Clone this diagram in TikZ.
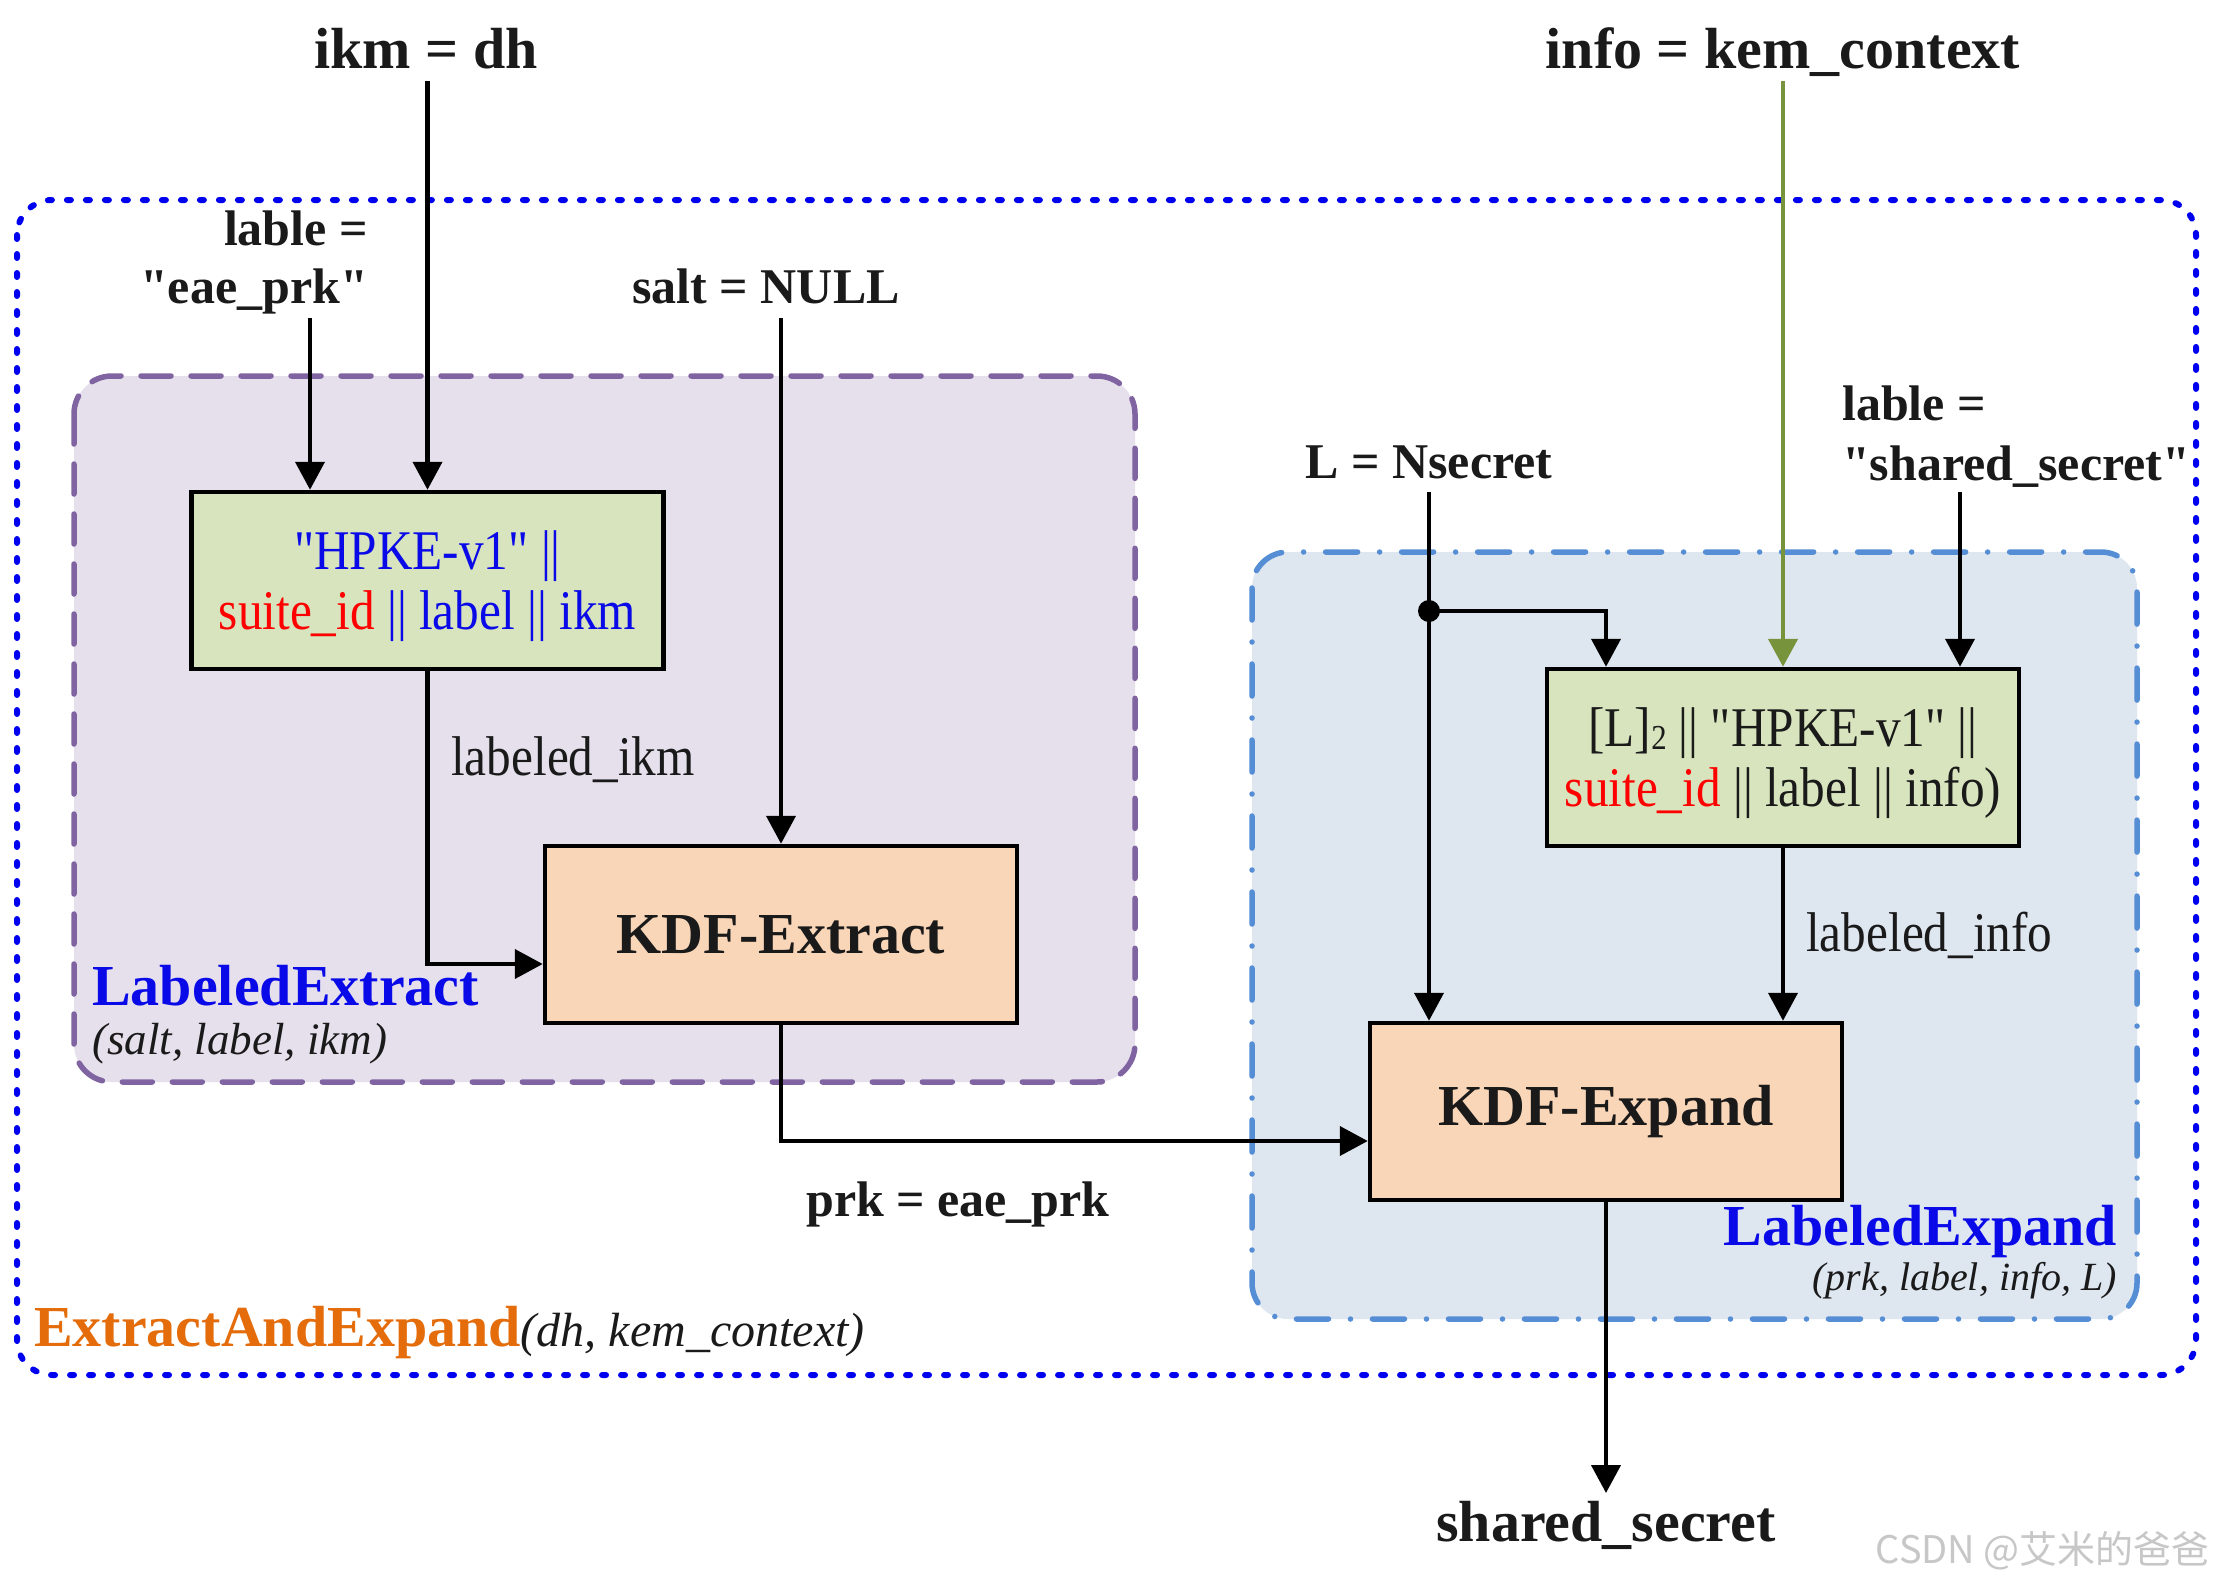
\documentclass[tikz,border=0pt]{standalone}
\usepackage{fontspec}
\setmainfont{Liberation Serif}[Ligatures=TeXOff]
\newfontfamily\condserif{Liberation Serif}[FakeStretch=0.88, Ligatures=TeXOff]
\newfontfamily\cjkwm{Noto Sans CJK SC}
\usetikzlibrary{arrows.meta}
\definecolor{hpkegreen}{HTML}{D7E4BD}
\definecolor{kdforange}{HTML}{FAD6B8}
\definecolor{purpfill}{HTML}{E5E0EC}
\definecolor{purpline}{HTML}{8064A2}
\definecolor{bluefill}{HTML}{DEE6F0}
\definecolor{blueline}{HTML}{558ED5}
\definecolor{outerblue}{HTML}{0000F0}
\definecolor{olivearrow}{HTML}{77933C}
\definecolor{orngtxt}{HTML}{E46C0A}
\definecolor{txtblue}{HTML}{0A0AE8}
\definecolor{txtdark}{HTML}{1A1A1A}
\newcommand\FBig{\fontsize{58}{66}\selectfont\bfseries}
\newcommand\FMid{\fontsize{50}{59}\selectfont\bfseries}
\newcommand\FReg{\condserif\fontsize{56}{60}\selectfont\lineskiplimit=-1000pt\relax}
\newcommand\sublow[1]{\raisebox{-3pt}{\fontsize{35}{35}\selectfont #1}}
\newcommand\topstrut{\rule{0pt}{52pt}}
\newcommand\botstrut{\rule[-15pt]{0pt}{15pt}}
\tikzset{
  box/.style={draw=black, line width=4.5pt, minimum width=472pt, minimum height=177pt, inner sep=0pt, align=center, text=txtdark},
  hbox/.style={box, fill=hpkegreen, font=\FReg},
  kbox/.style={box, fill=kdforange, font=\FBig},
  arr/.style={line width=4.2pt, draw=black, -{Triangle[length=28pt,width=29pt]}},
  lbl/.style={inner sep=0pt, text=txtdark},
}
\begin{document}
\begin{tikzpicture}[x=1pt,y=-1pt]
\useasboundingbox[fill=white] (0,0) rectangle (2219,1585);

% group frames
\draw[outerblue, line width=6pt, dash pattern=on 4pt off 15pt, line cap=round, rounded corners=35pt]
  (17,200) rectangle (2196,1375);
\draw[purpline, fill=purpfill, line width=5.5pt, dash pattern=on 30pt off 20pt, line cap=round, rounded corners=38pt]
  (74,376) rectangle (1135,1082);
\draw[blueline, fill=bluefill, line width=5.5pt, dash pattern=on 32pt off 22pt on 0pt off 22pt, line cap=round, rounded corners=36pt]
  (1252,552) rectangle (2137,1319);

% boxes
\node[hbox] (hl) at (427.5,580.5) {\topstrut{\color{txtblue}"HPKE-v1" ||}\\{\color{red}suite\_id} {\color{txtblue}|| label || ikm}\botstrut};
\node[kbox] (ke) at (781,934.5) {KDF-Extract};
\node[hbox] (hr) at (1783,757.5) {\topstrut[L]\sublow{2} || "HPKE-v1" ||\\{\color{red}suite\_id} || label || info)\botstrut};
\node[kbox] (kx) at (1606,1111.5) {KDF-Expand};

% text labels
\node[lbl, font=\FBig, anchor=base] (ikm) at (426,68) {ikm = dh};
\node[lbl, font=\FBig, anchor=base] (info) at (1783,68) {info = kem\_context};
\node[lbl, font=\FMid, anchor=base east] (lab1a) at (368,245) {lable =};
\node[lbl, font=\FMid, anchor=base east] (lab1b) at (368,303) {"eae\_prk"};
\node[lbl, font=\FMid, anchor=base] (salt) at (766,303) {salt = NULL};
\node[lbl, font=\FMid, anchor=base] (lsec) at (1429,478) {L = Nsecret};
\node[lbl, font=\FMid, anchor=base west] (lab2a) at (1842,420) {lable =};
\node[lbl, font=\FMid, anchor=base west] (lab2b) at (1842,480) {"shared\_secret"};
\node[lbl, font=\FReg, anchor=base west] (likm) at (451,775) {labeled\_ikm};
\node[lbl, font=\FReg, anchor=base west] (linfo) at (1806,951) {labeled\_info};
\node[lbl, font=\FBig, anchor=base west, text=txtblue] (lext) at (92,1005) {LabeledExtract};
\node[lbl, font=\fontsize{45}{52}\selectfont\itshape, anchor=base west] (lextp) at (92,1054) {(salt, label, ikm)};
\node[lbl, font=\FMid, anchor=base] (prk) at (958,1216) {prk = eae\_prk};
\node[lbl, font=\FBig, anchor=base east, text=txtblue] (lexp) at (2117,1245) {LabeledExpand};
\node[lbl, font=\fontsize{40}{48}\selectfont\itshape, anchor=base east] (lexpp) at (2117,1290) {(prk, label, info, L)};
\node[lbl, anchor=base west] (eae) at (34,1346) {{\FBig\color{orngtxt}ExtractAndExpand}{\fontsize{48}{54}\selectfont\itshape(dh, kem\_context)}};
\node[lbl, font=\FBig, anchor=base] (ss) at (1606,1541) {shared\_secret};
\node[lbl, font=\cjkwm\fontsize{38}{44}\selectfont, anchor=base east, text=black!22] (wm) at (2210,1563) {CSDN @艾米的爸爸};

% connector end points
\coordinate (ikmS) at (427.5,81);
\coordinate (lab1S) at (310,318);
\coordinate (saltS) at (781,318);
\coordinate (infoS) at (1783,81);
\coordinate (lsecS) at (1429,492);
\coordinate (lab2S) at (1960,492);
\coordinate (ssN) at (1606,1493);

% connectors
\draw[arr] (ikmS) -- (hl.north);
\draw[arr] (lab1S) -- (lab1S |- hl.north);
\draw[arr] (saltS) -- (ke.north);
\draw[arr] (hl.south) |- ([yshift=-29.5pt]ke.west);
\draw[arr] (ke.south) |- ([yshift=-29.5pt]kx.west);
\draw[arr, line width=4.8pt, draw=olivearrow, -{Triangle[length=28pt,width=29pt,fill=olivearrow]}] (infoS) -- (hr.north);
\draw[arr] (lsecS) -- (lsecS |- kx.north);
\node[circle, fill=black, inner sep=0pt, minimum size=22pt] (dot) at (1429,611) {};
\draw[arr] (dot.center) -| ([xshift=-177pt]hr.north);
\draw[arr] (lab2S) -- ([xshift=177pt]hr.north);
\draw[arr] (hr.south) -- ([xshift=177pt]kx.north);
\draw[arr] (kx.south) -- (ssN);
\end{tikzpicture}
\end{document}
